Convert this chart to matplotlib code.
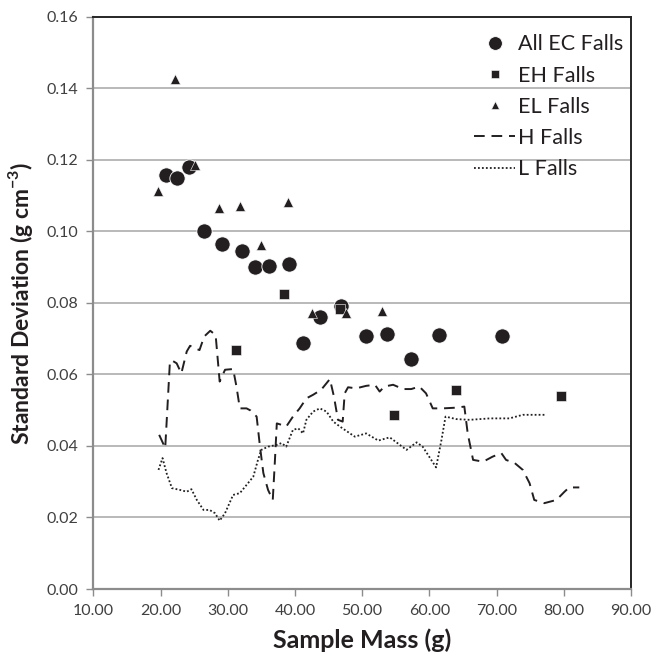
import matplotlib
matplotlib.use("Agg")
import matplotlib.pyplot as plt
from matplotlib.ticker import FormatStrFormatter, MultipleLocator

# All EC falls (circles)
ec_mass = [20.8, 22.4, 24.3, 26.5, 29.2, 32.1, 34.1, 36.1, 39.1, 41.2,
           43.8, 46.9, 50.5, 53.7, 57.2, 61.4, 70.8]
ec_sd = [0.1158, 0.1149, 0.1179, 0.1000, 0.0964, 0.0945, 0.0899, 0.0903,
         0.0909, 0.0688, 0.0760, 0.0792, 0.0708, 0.0713, 0.0642, 0.0711, 0.0708]

# EH falls (squares)
eh_mass = [31.2, 38.3, 46.7, 54.7, 63.9, 79.6]
eh_sd = [0.0667, 0.0825, 0.0782, 0.0487, 0.0556, 0.0539]

# EL falls (triangles)
el_mass = [19.6, 22.1, 25.1, 28.7, 31.8, 35.0, 39.0, 42.5, 47.6, 52.9]
el_sd = [0.1114, 0.1427, 0.1186, 0.1065, 0.1072, 0.0962, 0.1082, 0.0773,
         0.0771, 0.0778]

# H falls (dashed running curve)
h_mass = [19.8, 20.7, 21.4, 21.7, 22.4, 23.1, 23.9, 24.4, 25.1, 25.8,
          26.5, 27.4, 28.2, 28.8, 29.6, 30.8, 31.3, 31.8, 32.8, 33.4,
          34.3, 34.8, 35.3, 36.0, 36.7, 37.0, 37.3, 38.0, 38.7, 39.7,
          40.7, 41.7, 42.7, 43.9, 45.2, 45.8, 46.4, 47.1, 47.4, 47.9,
          49.1, 50.6, 51.9, 52.6, 53.3, 54.6, 56.1, 57.3, 58.5, 59.5,
          60.5, 62.0, 64.0, 65.2, 65.7, 66.5, 68.0, 69.4, 70.7, 71.4,
          72.7, 73.9, 74.9, 75.6, 77.1, 78.9, 80.1, 80.8, 82.3]
h_sd = [0.0431, 0.0394, 0.0636, 0.0639, 0.0631, 0.0603, 0.0664, 0.0680, 0.0673, 0.0668,
        0.0706, 0.0722, 0.0710, 0.0580, 0.0613, 0.0615, 0.0566, 0.0505, 0.0505, 0.0499,
        0.0482, 0.0398, 0.0324, 0.0277, 0.0249, 0.0352, 0.0463, 0.0459, 0.0454, 0.0482,
        0.0505, 0.0533, 0.0543, 0.0557, 0.0587, 0.0538, 0.0473, 0.0468, 0.0547, 0.0564,
        0.0561, 0.0568, 0.0571, 0.0552, 0.0566, 0.0571, 0.0559, 0.0559, 0.0566, 0.0547,
        0.0505, 0.0505, 0.0507, 0.0510, 0.0435, 0.0361, 0.0356, 0.0370, 0.0380, 0.0361,
        0.0352, 0.0333, 0.0296, 0.0249, 0.0240, 0.0249, 0.0272, 0.0284, 0.0284]

# L falls (dotted running curve)
l_mass = [19.7, 20.3, 20.9, 21.7, 22.9, 23.9, 24.6, 25.4, 26.4, 27.3,
          28.1, 28.8, 29.6, 30.8, 31.8, 32.8, 33.8, 34.5, 35.0, 36.0,
          37.3, 38.0, 38.7, 39.7, 40.5, 41.2, 41.7, 42.7, 43.7, 44.7,
          45.7, 46.7, 48.9, 50.6, 52.4, 54.1, 56.6, 58.1, 59.0, 61.0,
          61.8, 62.4, 64.0, 66.0, 69.0, 71.9, 73.9, 77.3]
l_sd = [0.0333, 0.0366, 0.0324, 0.0282, 0.0277, 0.0272, 0.0279, 0.0249, 0.0221, 0.0221,
        0.0212, 0.0191, 0.0212, 0.0263, 0.0268, 0.0291, 0.0314, 0.0361, 0.0389, 0.0398,
        0.0403, 0.0408, 0.0398, 0.0445, 0.0449, 0.0435, 0.0473, 0.0496, 0.0505, 0.0496,
        0.0468, 0.0454, 0.0426, 0.0435, 0.0415, 0.0424, 0.0389, 0.0410, 0.0398, 0.0340,
        0.0417, 0.0482, 0.0475, 0.0473, 0.0477, 0.0477, 0.0487, 0.0487]

ink = "#231f20"
grey = "#8c8c8c"

plt.rcParams["font.family"] = ["Lato", "DejaVu Sans"]
plt.rcParams["mathtext.fontset"] = "custom"
plt.rcParams["mathtext.rm"] = "Lato"
plt.rcParams["mathtext.bf"] = "Lato:bold"

fig = plt.figure(figsize=(6.57, 6.63), dpi=100)
ax = fig.add_axes([0.142, 0.1116, 0.8185, 0.8632])

for y in [0.02, 0.04, 0.06, 0.08, 0.10, 0.12, 0.14]:
    ax.axhline(y, color="#a6a6a6", lw=1.1, zorder=0)

ax.plot(ec_mass, ec_sd, "o", color=ink, ms=11, mec="white", mew=0.6,
        label="All EC Falls", zorder=3)
ax.plot(eh_mass, eh_sd, "s", color=ink, ms=6.5, mec="white", mew=0.4,
        label="EH Falls", zorder=4)
ax.plot(el_mass, el_sd, "^", color=ink, ms=7, mec="white", mew=0.4,
        label="EL Falls", zorder=4)
ax.plot(h_mass, h_sd, color=ink, lw=1.4, dashes=(5.5, 3.5), label="H Falls",
        zorder=2)
ax.plot(l_mass, l_sd, color=ink, lw=1.3, ls=(0, (1, 1.2)), label="L Falls",
        zorder=2)

ax.set_xlim(10, 90)
ax.set_ylim(0, 0.16)
ax.xaxis.set_major_locator(MultipleLocator(10))
ax.yaxis.set_major_locator(MultipleLocator(0.02))
ax.xaxis.set_major_formatter(FormatStrFormatter("%.2f"))
ax.yaxis.set_major_formatter(FormatStrFormatter("%.2f"))
ax.tick_params(direction="out", length=5, width=1, color=grey,
               labelsize=11.5, labelcolor="#404040", pad=6)

for side in ["top", "right"]:
    ax.spines[side].set_color("#262626")
    ax.spines[side].set_linewidth(1.4)
for side in ["left", "bottom"]:
    ax.spines[side].set_color(grey)
    ax.spines[side].set_linewidth(1.6)

ax.set_xlabel("Sample Mass (g)", fontsize=18, fontweight="bold",
              color=ink, labelpad=7)
ax.set_ylabel(r"Standard Deviation (g cm$^{\mathbf{-3}}$)", fontsize=16.5,
              fontweight="bold", color=ink, labelpad=8)

leg = ax.legend(loc="upper right", bbox_to_anchor=(1.006, 0.988),
                frameon=False, fontsize=15.5, handlelength=1.9,
                handletextpad=0.15, labelspacing=0.52, borderaxespad=0.2,
                borderpad=0.3, markerscale=0.9)
for text in leg.get_texts():
    text.set_color(ink)

fig.savefig("out.png", dpi=100)
